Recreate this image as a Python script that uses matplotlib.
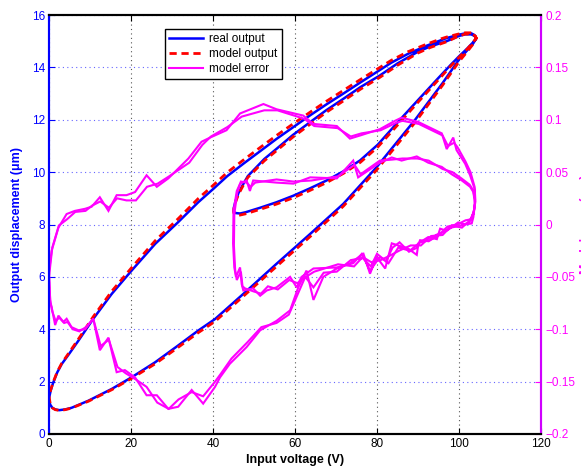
import matplotlib
matplotlib.use('Agg')
import matplotlib.pyplot as plt
from matplotlib.lines import Line2D

plt.rcParams['font.family'] = ['Liberation Sans', 'DejaVu Sans']

# ---------------- data: real output (um) ----------------
# major ascending branch (0 -> 104 V)
up_major_v = [0, 0.3, 0.8, 1.5, 2.5, 4, 5.5, 9.6, 15.3, 20.2, 25.9, 31.5, 36.4, 40.5,
              47.4, 55.5, 63.7, 71.8, 79.9, 89.3, 96, 100, 102, 103.4, 104.2]
up_major_real = [1.3, 1.12, 1.0, 0.94, 0.91, 0.94, 1.0, 1.27, 1.72, 2.17, 2.74, 3.38, 3.95, 4.39,
                 5.35, 6.5, 7.64, 8.79, 10.19, 12.0, 13.4, 14.3, 14.65, 14.9, 15.1]
up_major_model = [1.45, 1.15, 1.0, 0.93, 0.9, 0.93, 0.99, 1.25, 1.69, 2.13, 2.68, 3.31, 3.87, 4.3,
                  5.26, 6.4, 7.54, 8.7, 10.08, 11.9, 13.32, 14.22, 14.6, 14.88, 15.12]

# minor descending branch (104 -> 45 V)
down_minor_v = [104.2, 103.8, 103, 101.5, 100, 97, 93, 90, 85, 80.7, 76, 71.8, 67.5, 63.7,
                59.5, 55.5, 52.5, 49.8, 48.5, 47.4, 46.2, 45.5, 45.1, 45.05]
down_minor_real = [15.1, 15.2, 15.26, 15.26, 15.2, 15.0, 14.8, 14.6, 14.15, 13.69, 13.25, 12.8, 12.35, 11.91,
                   11.42, 10.89, 10.5, 10.06, 9.85, 9.55, 9.2, 8.9, 8.65, 8.5]
down_minor_model = [15.12, 15.22, 15.28, 15.27, 15.2, 14.98, 14.76, 14.55, 14.08, 13.62, 13.17, 12.72, 12.27, 11.83,
                    11.34, 10.82, 10.43, 10.0, 9.8, 9.5, 9.15, 8.85, 8.6, 8.45]

# minor ascending branch (45 -> 104 V)
up_minor_v = [45.05, 45.4, 46.6, 48, 51.5, 55.5, 59.6, 63.5, 67.7, 71.8, 75.9, 80.2, 85.6, 90,
              95, 98, 100, 102, 103.4, 104.2]
up_minor_real = [8.5, 8.44, 8.42, 8.47, 8.64, 8.85, 9.1, 9.37, 9.68, 10.03, 10.45, 11.05, 12.0, 12.75,
                 13.6, 14.1, 14.42, 14.72, 14.95, 15.1]
up_minor_model = [8.45, 8.38, 8.36, 8.41, 8.58, 8.78, 9.02, 9.29, 9.6, 9.95, 10.37, 10.96, 11.9, 12.67,
                  13.53, 14.05, 14.38, 14.7, 14.95, 15.12]

# major descending branch (104 -> 0 V)
down_major_v = [104.2, 103.8, 103, 101.5, 99.8, 97, 95.8, 92, 87.6, 83.5, 79.9, 75.8, 71.8, 67.7,
                63.7, 59.6, 55.5, 51.5, 47.4, 43.5, 40, 36.4, 31.5, 25.9, 20.2, 15.3, 10.8, 7.2,
                5, 3.1, 2, 1, 0.4, 0.05]
down_major_real = [15.1, 15.23, 15.3, 15.3, 15.24, 15.12, 15.05, 14.82, 14.52, 14.18, 13.82, 13.41, 13.0, 12.59,
                   12.17, 11.72, 11.27, 10.8, 10.32, 9.85, 9.35, 8.85, 8.09, 7.26, 6.25, 5.35, 4.4, 3.57,
                   3.08, 2.67, 2.35, 1.95, 1.65, 1.4]
down_major_model = [15.12, 15.25, 15.32, 15.32, 15.27, 15.16, 15.1, 14.88, 14.6, 14.27, 13.92, 13.52, 13.12, 12.71,
                    12.29, 11.85, 11.4, 10.94, 10.46, 9.99, 9.49, 8.99, 8.22, 7.38, 6.36, 5.45, 4.48, 3.63,
                    3.13, 2.7, 2.37, 1.97, 1.68, 1.45]

# ---------------- data: model error (right axis) ----------------
err1_v = [0, 0.3, 0.65, 1.5, 2.3, 3.5, 4.3, 5.5, 7.2, 8.8, 10.8, 12.4, 14.5, 16.5, 18.5, 21, 23.8, 26.3,
          29.1, 31.5, 34.8, 37.6, 40.5, 41.7, 44.1, 48.2, 51.5, 55.5, 58.8, 60.8, 62.8, 64.5, 66.9,
          70.2, 73.4, 76.7, 78.3, 79.9, 82, 83.6, 85.2, 87.6, 89.7, 90.1, 92.5, 94.6, 95.4, 97, 99.8,
          101.5, 103.1, 103.5, 103.9, 103.5,
          102.7, 100.7, 98.2, 95.8, 92.5, 89.7, 86, 83.6, 80.7, 75.4, 74.2, 70.2, 63.7, 59.6, 55.5,
          49.8, 49, 48.2, 46.6, 45.8, 45, 44.9, 45.2, 45.6, 46.6, 47, 47.4,
          49.8, 51.5, 53.1, 55.5, 58.8, 60.4, 61.6, 64.5, 70.2, 74.2, 76.3, 78.3, 80.7, 82.8, 85.2,
          88, 90.5, 93, 95.8, 98, 100.5, 102.5, 103.5, 103.9,
          103.9, 102.7, 101.5, 99.4, 98.6, 97, 95.8, 90, 86, 84.4, 80.7, 75.9, 73.4, 70.2, 64.5,
          62, 55.5, 52.3, 46.6, 43.3, 39.3, 37.2, 34, 29.1, 26.3, 23.8, 21, 18.9, 16.5, 14.5,
          12.4, 10.4, 8.8, 6.3, 4.3, 2.3, 0.65, 0]
err1_r = [-0.045, -0.075, -0.079, -0.096, -0.087, -0.093, -0.090, -0.098, -0.101, -0.100, -0.090, -0.120,
          -0.108, -0.141, -0.139, -0.146, -0.163, -0.163, -0.176, -0.174, -0.158, -0.171, -0.155, -0.146,
          -0.133, -0.117, -0.101, -0.092, -0.082, -0.060, -0.044, -0.072, -0.050, -0.042, -0.037, -0.028,
          -0.047, -0.031, -0.042, -0.018, -0.020, -0.023, -0.029, -0.018, -0.012, -0.014, -0.004, -0.006,
          0.002, 0.000, 0.001, 0.007, 0.020, 0.031,
          0.036, 0.042, 0.048, 0.055, 0.059, 0.065, 0.061, 0.064, 0.059, 0.045, 0.061, 0.044, 0.045,
          0.039, 0.040, 0.042, 0.032, 0.042, 0.039, 0.032, 0.013, -0.018, -0.041, -0.050, -0.041,
          -0.057, -0.063,
          -0.061, -0.068, -0.063, -0.060, -0.050, -0.060, -0.050, -0.042, -0.041, -0.037, -0.028, -0.044,
          -0.031, -0.037, -0.022, -0.025, -0.017, -0.015, -0.008, -0.003, -0.001, 0.002, 0.010, 0.020,
          0.033, 0.047, 0.058, 0.071, 0.083, 0.072, 0.087, 0.098, 0.102, 0.099, 0.091, 0.085, 0.082,
          0.094, 0.096, 0.104, 0.110, 0.115, 0.106, 0.090, 0.083, 0.079, 0.063, 0.044, 0.036, 0.047,
          0.031, 0.028, 0.028, 0.013, 0.026, 0.017, 0.015, 0.013, 0.010, -0.003, -0.025, -0.045]

err2_v = [0, 0.3, 0.8, 1.6, 2.5, 3.7, 4.5, 5.8, 7.4, 9, 10.8, 12.6, 14.6, 16.7, 18.7, 21.2, 23.8, 26.4,
          29.2, 31.6, 34.8, 37.6, 40.5, 42, 44.5, 48.5, 51.8, 55.5, 58.5, 60.5, 62.5, 64.5, 67, 70.2,
          73.6, 76.5, 78.5, 80, 82.2, 83.8, 85.5, 87.8, 89.8, 90.5, 92.6, 94.4, 95.6, 97.2, 99.6, 101.6,
          103, 103.7, 103.9, 103.4,
          102.6, 100.6, 98.4, 96, 92.6, 89.8, 86.2, 83.8, 80.7, 76, 74.5, 70.5, 64, 59.6, 55.5, 50.3,
          49.2, 48.2, 46.8, 45.9, 45.2, 45.1, 45.4, 45.8, 46.8, 47.2, 47.8,
          50, 51.7, 53.4, 55.8, 58.6, 60.6, 61.8, 64.7, 70.5, 74.4, 76.5, 78.6, 80.9, 83, 85.4, 88.2,
          90.7, 93.2, 96, 98.2, 100.7, 102.7, 103.6, 104,
          103.8, 102.8, 101.6, 99.6, 98.8, 97.3, 96, 90.2, 86.2, 84.6, 80.9, 76.2, 73.6, 70.4, 64.7,
          62.2, 55.7, 52.5, 47, 43.5, 39.5, 37.4, 34.2, 29.3, 26.5, 23.9, 21.2, 18.9, 16.6, 14.6, 12.5,
          10.5, 8.9, 6.4, 4.4, 2.4, 0.8, 0]
err2_r = [-0.050, -0.072, -0.083, -0.092, -0.089, -0.094, -0.093, -0.100, -0.102, -0.098, -0.090, -0.116,
          -0.110, -0.136, -0.142, -0.148, -0.155, -0.170, -0.176, -0.167, -0.160, -0.164, -0.150, -0.142,
          -0.128, -0.112, -0.098, -0.094, -0.086, -0.068, -0.050, -0.060, -0.046, -0.045, -0.034, -0.032,
          -0.040, -0.028, -0.035, -0.022, -0.017, -0.026, -0.022, -0.015, -0.016, -0.010, -0.008, -0.002,
          0.000, 0.004, 0.005, 0.014, 0.024, 0.033,
          0.038, 0.044, 0.050, 0.053, 0.061, 0.063, 0.063, 0.062, 0.061, 0.048, 0.057, 0.046, 0.042,
          0.041, 0.043, 0.040, 0.036, 0.040, 0.041, 0.030, 0.010, -0.020, -0.043, -0.053, -0.045,
          -0.059, -0.061,
          -0.064, -0.066, -0.059, -0.062, -0.053, -0.056, -0.052, -0.045, -0.038, -0.040, -0.031, -0.036,
          -0.034, -0.030, -0.025, -0.020, -0.020, -0.011, -0.010, -0.001, -0.003, 0.004, 0.012, 0.022,
          0.036, 0.050, 0.060, 0.074, 0.078, 0.075, 0.085, 0.096, 0.099, 0.097, 0.090, 0.087, 0.084,
          0.092, 0.094, 0.101, 0.109, 0.109, 0.103, 0.093, 0.084, 0.076, 0.059, 0.046, 0.039, 0.036,
          0.023, 0.023, 0.025, 0.016, 0.022, 0.018, 0.013, 0.012, 0.005, -0.001, -0.022, -0.050]

x_ticks = [0, 20, 40, 60, 80, 100, 120]
left_ticks = [0, 2, 4, 6, 8, 10, 12, 14, 16]
right_ticks = [-0.2, -0.15, -0.1, -0.05, 0, 0.05, 0.1, 0.15, 0.2]
right_labels = ['\u22120.2', '\u22120.15', '\u22120.1', '\u22120.05', '0', '0.05', '0.1', '0.15', '0.2']

BLUE = '#0000ff'
RED = '#ff0000'
MAG = '#ff00ff'

fig = plt.figure(figsize=(5.81, 4.68), dpi=100)
ax = fig.add_axes([49 / 581, 34 / 468, 492 / 581, 419 / 468])
ax2 = ax.twinx()

real_v = up_major_v + down_minor_v + up_minor_v + down_major_v
real_y = up_major_real + down_minor_real + up_minor_real + down_major_real
model_y = up_major_model + down_minor_model + up_minor_model + down_major_model

l_real, = ax.plot(real_v, real_y, color=BLUE, lw=1.8, zorder=3, solid_joinstyle='round')
l_model, = ax.plot(real_v, model_y, color=RED, lw=2.0, ls=(0, (2.6, 1.7)), zorder=4)
ax2.plot(err1_v, err1_r, color=MAG, lw=1.5, solid_joinstyle='miter')
l_err, = ax2.plot(err2_v, err2_r, color=MAG, lw=1.5, solid_joinstyle='miter')

ax.set_xlim(0, 120)
ax.set_ylim(0, 16)
ax2.set_ylim(-0.2, 0.2)
ax.set_xticks(x_ticks)
ax.set_yticks(left_ticks)
ax2.set_yticks(right_ticks)
ax2.set_yticklabels(right_labels)

# grid
ax.xaxis.grid(True, color='#555555', lw=0.8, ls=(0, (1, 3)))
ax.yaxis.grid(True, color='#6666ff', lw=0.8, ls=(0, (1, 3)))
ax.set_axisbelow(True)

# ticks
ax.tick_params(axis='x', direction='in', length=4, width=0.8, labelsize=8.5, pad=3,
               top=True, bottom=True, colors='black')
ax.tick_params(axis='y', direction='in', length=4, width=0.8, labelsize=8.5, pad=3,
               left=True, right=False, colors=BLUE)
ax2.tick_params(axis='y', direction='in', length=4, width=0.8, labelsize=8.5, pad=3,
                colors=MAG)

# spines
for a in (ax, ax2):
    a.spines['top'].set_color('black')
    a.spines['bottom'].set_color('black')
    a.spines['left'].set_color(BLUE)
    a.spines['right'].set_color('#d000ff')
    for s in a.spines.values():
        s.set_linewidth(1.5)

ax.set_xlabel('Input voltage (V)', fontsize=9, fontweight='bold', labelpad=3)
ax.set_ylabel('Output displacement (\u03bcm)', fontsize=9, fontweight='bold', color=BLUE, labelpad=6)
ax2.set_ylabel('Model error (\u03bcm)', fontsize=9, fontweight='bold', color=MAG)
ax2.yaxis.set_label_coords(1.079, 0.5)

leg = ax2.legend([l_real, l_model, l_err], ['real output', 'model output', 'model error'],
                 loc='upper left', bbox_to_anchor=(0.236, 0.967), fancybox=False,
                 edgecolor='black', framealpha=1, fontsize=8.5, handlelength=2.9,
                 borderpad=0.35, labelspacing=0.25, handletextpad=0.5, borderaxespad=0)
leg.get_frame().set_linewidth(1.0)

fig.savefig('out.png', dpi=100)
